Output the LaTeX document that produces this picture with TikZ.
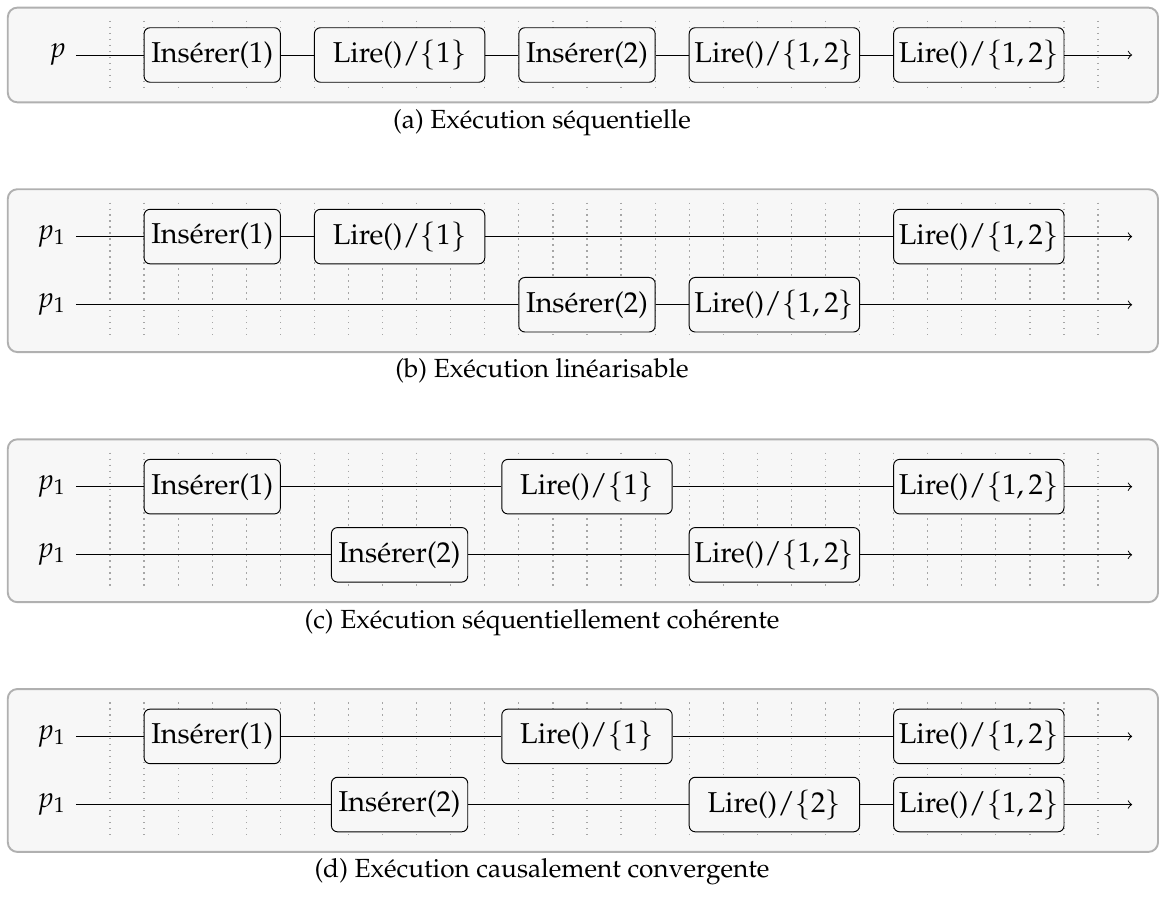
\documentclass[tikz,border=0pt,12pt]{standalone}
\usepackage[T1]{fontenc}
\usepackage{mathpazo}
\usepackage{tikz}
\usetikzlibrary{arrows}

\begin{document}
\begin{tikzpicture}[x=0.5cm,y=0.5cm,
    panel/.style={draw=gray!62,fill=gray!6,line width=0.8pt,rounded corners=4pt},
    tick/.style={gray!70,dotted,line width=0.5pt},
    op/.style={draw,fill=gray!6,rounded corners=2.5pt,inner xsep=1pt,minimum height=0.8cm},
    ins/.style={op,minimum width=2cm},
    lire/.style={op,minimum width=2.5cm},
    proc/.style={anchor=east},
    caption/.style={anchor=base,font=\small}]

  \useasboundingbox (-3.2287,1.6143) rectangle (30.789,-24.831);

  \draw[panel] (-3,1.39) rectangle (30.76,-1.39);
  \draw[panel] (-3,-3.94) rectangle (30.76,-8.72);
  \draw[panel] (-3,-11.28) rectangle (30.76,-16.06);
  \draw[panel] (-3,-18.61) rectangle (30.76,-23.39);

  \foreach \t/\b in {1/-1,-4.33/-8.33,-11.67/-15.67,-19/-23}
    \foreach \x in {0,...,29}
      \draw[tick] (\x,\t) -- (\x,\b);

  % (a)
  \node[proc] (pa) at (-1,0) {$p$};
  \node[ins]  (a1) at (3,0)    {Insérer(1)};
  \node[lire] (a2) at (8.5,0)  {Lire()$/\{1\}$};
  \node[ins]  (a3) at (14,0)   {Insérer(2)};
  \node[lire] (a4) at (19.5,0) {Lire()$/\{1,2\}$};
  \node[lire] (a5) at (25.5,0) {Lire()$/\{1,2\}$};
  \coordinate (ea) at (30,0);
  \node[caption] (capa) at (12.68,-2.15) {(a) Exécution séquentielle};

  % (b)
  \node[proc] (pb1) at (-1,-5.33) {$p_1$};
  \node[ins]  (b1) at (3,-5.33)    {Insérer(1)};
  \node[lire] (b2) at (8.5,-5.33)  {Lire()$/\{1\}$};
  \node[lire] (b3) at (25.5,-5.33) {Lire()$/\{1,2\}$};
  \coordinate (eb1) at (30,-5.33);
  \node[proc] (pb2) at (-1,-7.33) {$p_1$};
  \node[ins]  (b4) at (14,-7.33)   {Insérer(2)};
  \node[lire] (b5) at (19.5,-7.33) {Lire()$/\{1,2\}$};
  \coordinate (eb2) at (30,-7.33);
  \node[caption] (capb) at (12.68,-9.48) {(b) Exécution linéarisable};

  % (c)
  \node[proc] (pc1) at (-1,-12.67) {$p_1$};
  \node[ins]  (c1) at (3,-12.67)    {Insérer(1)};
  \node[lire] (c2) at (14,-12.67)   {Lire()$/\{1\}$};
  \node[lire] (c3) at (25.5,-12.67) {Lire()$/\{1,2\}$};
  \coordinate (ec1) at (30,-12.67);
  \node[proc] (pc2) at (-1,-14.67) {$p_1$};
  \node[ins]  (c4) at (8.5,-14.67)  {Insérer(2)};
  \node[lire] (c5) at (19.5,-14.67) {Lire()$/\{1,2\}$};
  \coordinate (ec2) at (30,-14.67);
  \node[caption] (capc) at (12.68,-16.82) {(c) Exécution séquentiellement cohérente};

  % (d)
  \node[proc] (pd1) at (-1,-20) {$p_1$};
  \node[ins]  (d1) at (3,-20)    {Insérer(1)};
  \node[lire] (d2) at (14,-20)   {Lire()$/\{1\}$};
  \node[lire] (d3) at (25.5,-20) {Lire()$/\{1,2\}$};
  \coordinate (ed1) at (30,-20);
  \node[proc] (pd2) at (-1,-22) {$p_1$};
  \node[ins]  (d4) at (8.5,-22)  {Insérer(2)};
  \node[lire] (d5) at (19.5,-22) {Lire()$/\{2\}$};
  \node[lire] (d6) at (25.5,-22) {Lire()$/\{1,2\}$};
  \coordinate (ed2) at (30,-22);
  \node[caption] (capd) at (12.68,-24.15) {(d) Exécution causalement convergente};

  \path
   (pa) edge (a1) (a1) edge (a2) (a2) edge (a3) (a3) edge (a4) (a4) edge (a5)
   (a5) edge[->] (ea)
   (pb1) edge (b1) (b1) edge (b2) (b2) edge (b3) (b3) edge[->] (eb1)
   (pb2) edge (b4) (b4) edge (b5) (b5) edge[->] (eb2)
   (pc1) edge (c1) (c1) edge (c2) (c2) edge (c3) (c3) edge[->] (ec1)
   (pc2) edge (c4) (c4) edge (c5) (c5) edge[->] (ec2)
   (pd1) edge (d1) (d1) edge (d2) (d2) edge (d3) (d3) edge[->] (ed1)
   (pd2) edge (d4) (d4) edge (d5) (d5) edge (d6) (d6) edge[->] (ed2);
\end{tikzpicture}
\end{document}
